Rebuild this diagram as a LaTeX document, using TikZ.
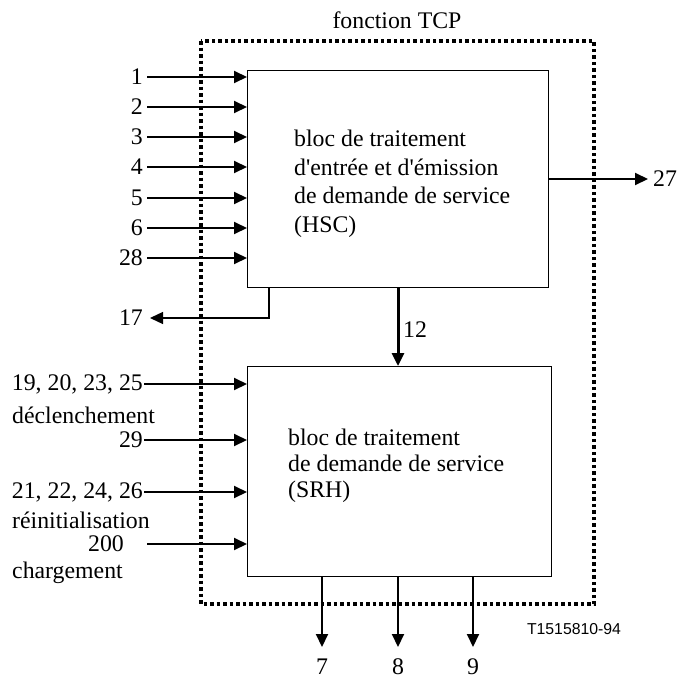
\documentclass[tikz,border=0pt]{standalone}
\usepackage{fontspec}
\setmainfont{Liberation Serif}
\newfontfamily\labsans{Liberation Sans}
\usetikzlibrary{arrows.meta}
\begin{document}
\begin{tikzpicture}[x=1pt,y=-1pt,
  every node/.style={font=\fontsize{23.8}{28}\selectfont, inner sep=0pt},
  box/.style={draw, line width=1.3pt, fill=white},
  frame/.style={line width=3.5pt, dash pattern=on 3.5pt off 3pt},
  arr/.style={line width=2pt, -{Triangle[length=13pt,width=12pt]}},
  tarr/.style={line width=1.3pt, -{Triangle[length=13pt,width=12pt]}},
  lab/.style={anchor=east}
]
\useasboundingbox (0,0) rectangle (680,680);
\fill[white] (0,0) rectangle (680,680);
% frame
\draw[frame] (201,41) rectangle (594,604);
\node (title) at (397,20) {fonction TCP};
% boxes
\node[box, anchor=north west, minimum width=301pt, minimum height=217pt] (hsc) at (247,70) {};
\node[box, anchor=north west, minimum width=304pt, minimum height=210pt] (srh) at (247,366) {};
\node[anchor=north west, align=left, font=\fontsize{23.8}{28.5}\selectfont] (hsct) at (294,130)
  {bloc de traitement\\d\textquotesingle entrée et d\textquotesingle émission\\de demande de service\\(HSC)};
\node[anchor=north west, align=left, font=\fontsize{23.8}{26}\selectfont] (srht) at (288,429)
  {bloc de traitement\\de demande de service\\(SRH)};
% HSC inputs
\foreach \t/\y/\n in {1/77/a,2/107/b,3/137/c,4/167/d,5/198/e,6/228/f,28/258/g}{
  \node[lab] (in\n) at (143,\y) {\t};
  \draw[arr] ([xshift=4pt]in\n.east) -- (in\n.east -| hsc.west);
}
% 27 output
\coordinate (o27s) at (548,179);
\node[anchor=west] (l27) at (653,179) {27};
\draw[arr] (o27s) -- ([xshift=-5pt]l27.west);
% 17 output
\coordinate (o17s) at (269,287);
\node[lab] (l17) at (143,318) {17};
\draw[tarr] (o17s) |- ([xshift=7pt]l17.east);
% 12
\draw[line width=3pt, -{Triangle[length=13pt,width=12pt]}] (hsc.south -| 398,0) -- (srh.north -| 398,0);
\node[anchor=west] (l12) at (403,330) {12};
% SRH inputs
\node[lab] (s1) at (143,384) {19, 20, 23, 25};
\node[anchor=west] (s1b) at (12,415) {déclenchement};
\node[lab] (s2) at (143,440) {29};
\node[lab] (s3) at (143,492) {21, 22, 24, 26};
\node[anchor=west] (s3b) at (12,520) {réinitialisation};
\node (s4) at (106,544) {200};
\node[anchor=west] (s4b) at (12,573) {chargement};
\coordinate (s4s) at (147,544);
\draw[arr] ([xshift=1pt]s1.east) -- (s1.east -| srh.west);
\draw[arr] ([xshift=1pt]s2.east) -- (s2.east -| srh.west);
\draw[arr] ([xshift=1pt]s3.east) -- (s3.east -| srh.west);
\draw[arr] (s4s) -- (s4s -| srh.west);
% bottom outputs
\foreach \t/\x in {7/322,8/398,9/473}{
  \node (b\t) at (\x,667) {\t};
  \coordinate (e\t) at (\x,647);
  \draw[arr] (srh.south -| b\t) -- (e\t);
}
\node[font=\labsans\fontsize{15.8}{18}\selectfont] (ref) at (574,629) {T1515810-94};
\end{tikzpicture}
\end{document}
